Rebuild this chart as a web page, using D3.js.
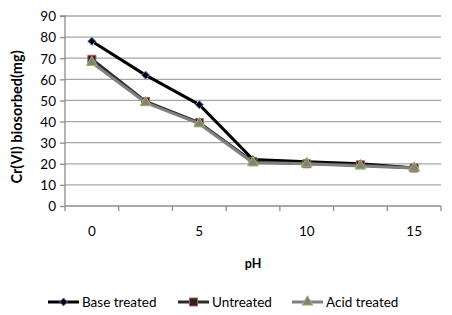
<!DOCTYPE html>
<html>
<head>
<meta charset="utf-8">
<script src="https://cdn.jsdelivr.net/npm/d3@7"></script>
<style>
  body { margin: 0; background: #fff; }
  svg text { font-family: Lato, "Open Sans", sans-serif; fill: #000; }
</style>
</head>
<body>
<svg id="chart" width="452" height="315"></svg>
<script>
'use strict';

// categories on the x axis (only every other one gets a label)
const phValues  = [ 0, 2.5, 5, 7.5, 10, 12.5, 15 ];
const phLabels  = [ '0', '', '5', '', '10', '', '15' ];
const yTicks    = [ 0, 10, 20, 30, 40, 50, 60, 70, 80, 90 ];

// series values
const baseTreated = [ 78, 62, 48, 22, 21, 20, 18 ];
const untreated   = [ 69.5, 49.5, 39.5, 21, 20, 19.5, 18 ];
const acidTreated = [ 68, 49, 39, 20.5, 20, 19, 18 ];

const seriesNames = [ 'Base treated', 'Untreated', 'Acid treated' ];

const series = [
  { name: seriesNames[0], values: baseTreated, line: '#000000', fill: '#000000', stroke: '#4a7ebb', symbol: d3.symbolDiamond2, size: 40 },
  { name: seriesNames[1], values: untreated,   line: '#2a2a2a', fill: '#262626', stroke: '#c0504d', symbol: d3.symbolSquare,   size: 64 },
  { name: seriesNames[2], values: acidTreated, line: '#808080', fill: '#808080', stroke: '#9bbb59', symbol: d3.symbolTriangle, size: 50 }
];

const margin = { top: 16, right: 11, bottom: 109, left: 65 },
      width  = 452 - margin.left - margin.right,
      height = 315 - margin.top - margin.bottom;

const svg = d3.select( '#chart' )
            .append( 'g' )
              .attr( 'transform', `translate(${margin.left},${margin.top})` );

// scales
const x = d3.scaleBand()
            .domain( phValues )
            .range( [ 0, width ] );
const y = d3.scaleLinear()
            .domain( [ 0, 90 ] )
            .range( [ height, 0 ] );

// gridlines
svg.append( 'g' )
    .attr( 'class', 'grid' )
  .selectAll( 'line' )
    .data( yTicks.filter( (d) => d > 0 ) )
  .enter().append( 'line' )
    .attr( 'x1', 0 )
    .attr( 'x2', width )
    .attr( 'y1', (d) => y( d ) )
    .attr( 'y2', (d) => y( d ) )
    .style( 'stroke', '#a6a6a6' )
    .style( 'stroke-width', 1.3 );

// y-axis
const yAxis = svg.append( 'g' )
    .call( d3.axisLeft( y ).tickValues( yTicks ).tickSize( 5 ).tickPadding( 4 ) );
yAxis.select( '.domain' ).attr( 'd', `M-5,0H0V${height}` ).style( 'stroke', '#8c8c8c' ).style( 'stroke-width', 1.3 );
yAxis.selectAll( '.tick line' ).style( 'stroke', '#8c8c8c' ).style( 'stroke-width', 1.3 );
yAxis.selectAll( '.tick text' ).style( 'font-size', '13.5px' ).attr( 'dy', '0.36em' );

// x-axis: ticks at category boundaries
const xAxisG = svg.append( 'g' )
    .attr( 'transform', `translate(0,${height})` );
xAxisG.append( 'line' )
    .attr( 'x1', 0 ).attr( 'x2', width )
    .style( 'stroke', '#8c8c8c' ).style( 'stroke-width', 1.3 );
xAxisG.selectAll( '.xtick' )
    .data( phValues.concat( [ null ] ) )
  .enter().append( 'line' )
    .attr( 'class', 'xtick' )
    .attr( 'x1', (d, i) => i * x.step() )
    .attr( 'x2', (d, i) => i * x.step() )
    .attr( 'y1', 0 )
    .attr( 'y2', 5 )
    .style( 'stroke', '#8c8c8c' ).style( 'stroke-width', 1.3 );
xAxisG.selectAll( '.xlabel' )
    .data( phValues )
  .enter().append( 'text' )
    .attr( 'class', 'xlabel' )
    .attr( 'x', (d) => x( d ) + x.bandwidth() / 2 )
    .attr( 'y', 30 )
    .style( 'text-anchor', 'middle' )
    .style( 'font-size', '13.5px' )
    .text( (d, i) => phLabels[ i ] );

// axis titles
svg.append( 'text' )
    .attr( 'x', width / 2 )
    .attr( 'y', height + 62 )
    .style( 'text-anchor', 'middle' )
    .style( 'font-size', '12.5px' )
    .style( 'font-weight', 'bold' )
    .text( 'pH' );

svg.append( 'text' )
    .attr( 'transform', `translate(${17 - margin.left},${height / 2 + 6}) rotate(-90)` )
    .attr( 'dy', '0.35em' )
    .style( 'text-anchor', 'middle' )
    .style( 'font-size', '14.5px' )
    .style( 'font-weight', 'bold' )
    .text( 'Cr(VI) biosorbed(mg)' );

// lines and markers
const line = d3.line()
    .x( (d, i) => x( phValues[ i ] ) + x.bandwidth() / 2 )
    .y( (d) => y( d ) );

const groups = svg.selectAll( '.series' )
    .data( series )
  .enter().append( 'g' )
    .attr( 'class', 'series' );

groups.append( 'path' )
    .attr( 'd', (s) => line( s.values ) )
    .style( 'fill', 'none' )
    .style( 'stroke', (s) => s.line )
    .style( 'stroke-width', 3 )
    .style( 'stroke-linejoin', 'round' );

groups.selectAll( '.marker' )
    .data( (s) => s.values.map( (v, i) => ({ v: v, i: i, s: s }) ) )
  .enter().append( 'path' )
    .attr( 'class', 'marker' )
    .attr( 'transform', (d) => `translate(${x( phValues[ d.i ] ) + x.bandwidth() / 2},${y( d.v )})` )
    .attr( 'd', (d) => d3.symbol().type( d.s.symbol ).size( d.s.size )() )
    .style( 'fill', (d) => d.s.fill )
    .style( 'stroke', (d) => d.s.stroke )
    .style( 'stroke-width', 1 );

// legend
const legendX = [ 48, 178, 292 ];
const legend = d3.select( '#chart' ).append( 'g' )
    .attr( 'transform', 'translate(0,302)' );
const items = legend.selectAll( '.item' )
    .data( series )
  .enter().append( 'g' )
    .attr( 'class', 'item' )
    .attr( 'transform', (s, i) => `translate(${legendX[ i ]},0)` );
items.append( 'line' )
    .attr( 'x1', 0 ).attr( 'x2', 31 )
    .style( 'stroke', (s) => s.line )
    .style( 'stroke-width', 3 );
items.append( 'path' )
    .attr( 'transform', 'translate(15.5,0)' )
    .attr( 'd', (s) => d3.symbol().type( s.symbol ).size( s.size )() )
    .style( 'fill', (s) => s.fill )
    .style( 'stroke', (s) => s.stroke )
    .style( 'stroke-width', 1 );
items.append( 'text' )
    .attr( 'x', 34 )
    .attr( 'dy', '0.36em' )
    .style( 'font-size', '13.5px' )
    .text( (s) => s.name );
</script>
</body>
</html>
